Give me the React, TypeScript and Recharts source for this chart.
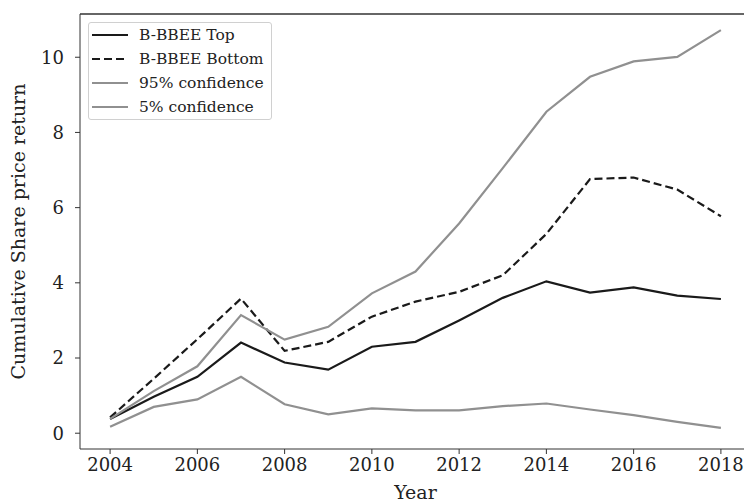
import { LineChart, Line, XAxis, YAxis, ReferenceLine } from 'recharts'

const years = [2004, 2005, 2006, 2007, 2008, 2009, 2010, 2011, 2012, 2013, 2014, 2015, 2016, 2017, 2018]
const topSeries = [0.38, 0.97, 1.5, 2.41, 1.88, 1.69, 2.3, 2.43, 3.0, 3.6, 4.04, 3.74, 3.88, 3.66, 3.57]
const bottomSeries = [0.42, 1.45, 2.5, 3.58, 2.19, 2.43, 3.1, 3.5, 3.76, 4.2, 5.3, 6.76, 6.8, 6.48, 5.77]
const upperSeries = [0.38, 1.12, 1.78, 3.14, 2.49, 2.83, 3.72, 4.3, 5.58, 7.05, 8.55, 9.48, 9.89, 10.01, 10.72]
const lowerSeries = [0.17, 0.7, 0.9, 1.5, 0.77, 0.5, 0.66, 0.61, 0.61, 0.72, 0.79, 0.63, 0.48, 0.3, 0.14]

const xTicks = [2004, 2006, 2008, 2010, 2012, 2014, 2016, 2018]
const yTicks = [0, 2, 4, 6, 8, 10]

const X_DOMAIN: [number, number] = [2003.31, 2018.69]
const Y_DOMAIN: [number, number] = [-0.42, 11.15]

const FONT = '"DejaVu Serif", serif'
const INK = '#222'
const GREY = '#909090'

const legendItems = [
  { label: 'B-BBEE Top', color: '#1a1a1a', dash: undefined },
  { label: 'B-BBEE Bottom', color: '#1a1a1a', dash: '8 4' },
  { label: '95% confidence', color: GREY, dash: undefined },
  { label: '5% confidence', color: GREY, dash: undefined },
]

const data = years.map((year, i) => ({
  year,
  top: topSeries[i],
  bottom: bottomSeries[i],
  upper: upperSeries[i],
  lower: lowerSeries[i],
}))

function LegendBox() {
  return (
    <div
      style={{
        position: 'absolute',
        left: 88,
        top: 22,
        border: '1px solid #d0d0d0',
        borderRadius: 3,
        background: 'rgba(255,255,255,0.8)',
        padding: '0 7px 0 3px',
        fontFamily: FONT,
        fontSize: 15.5,
        color: INK,
      }}
    >
      {legendItems.map((it) => (
        <div key={it.label} style={{ display: 'flex', alignItems: 'center', height: 24 }}>
          <svg width={36} height={6} style={{ marginRight: 11 }}>
            <line x1={0} y1={3} x2={36} y2={3} stroke={it.color} strokeWidth={2.2} strokeDasharray={it.dash} />
          </svg>
          <span>{it.label}</span>
        </div>
      ))}
    </div>
  )
}

export default function App() {
  return (
    <div style={{ position: 'fixed', left: 0, top: 0, width: 744, height: 501, overflow: 'hidden', background: '#fff' }}>
      <LineChart width={760} height={501} data={data} margin={{ top: 14, right: 9, bottom: 0, left: 20 }}>
        <ReferenceLine y={Y_DOMAIN[1]} stroke="#333" strokeWidth={1.5} ifOverflow="visible" />
        <XAxis
          dataKey="year"
          type="number"
          domain={X_DOMAIN}
          ticks={xTicks}
          allowDataOverflow
          height={52}
          tickSize={5}
          tickMargin={4}
          stroke="#333"
          tick={{ fill: INK, fontSize: 18, fontFamily: FONT }}
          label={{ value: 'Year', position: 'insideBottom', offset: 2, fill: INK, fontSize: 19, fontFamily: FONT }}
        />
        <YAxis
          type="number"
          domain={Y_DOMAIN}
          ticks={yTicks}
          allowDataOverflow
          width={60}
          tickSize={5}
          tickMargin={11}
          stroke="#333"
          tick={{ fill: INK, fontSize: 18, fontFamily: FONT }}
          label={{
            content: ({ viewBox }: any) => {
              const cx = 18
              const cy = viewBox.y + viewBox.height / 2
              return (
                <text
                  x={cx}
                  y={cy}
                  transform={`rotate(-90 ${cx} ${cy})`}
                  textAnchor="middle"
                  dominantBaseline="central"
                  fill={INK}
                  fontSize={19}
                  fontFamily={FONT}
                >
                  Cumulative Share price return
                </text>
              )
            },
          }}
        />
        <Line dataKey="top" stroke="#1a1a1a" strokeWidth={2.2} dot={false} isAnimationActive={false} />
        <Line dataKey="bottom" stroke="#1a1a1a" strokeWidth={2.2} strokeDasharray="8 4" dot={false} isAnimationActive={false} />
        <Line dataKey="upper" stroke={GREY} strokeWidth={2.2} dot={false} isAnimationActive={false} />
        <Line dataKey="lower" stroke={GREY} strokeWidth={2.2} dot={false} isAnimationActive={false} />
      </LineChart>
      <LegendBox />
    </div>
  )
}
